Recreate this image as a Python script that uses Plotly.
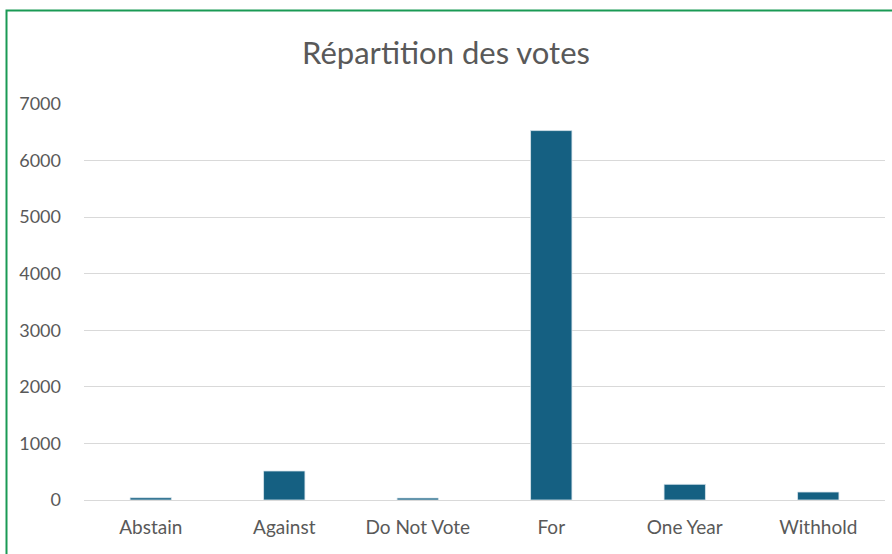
import plotly.graph_objects as go

categories = ["Abstain", "Against", "Do Not Vote", "For", "One Year", "Withhold"]
votes = [40, 513, 35, 6530, 277, 141]
y_ticks = [0, 1000, 2000, 3000, 4000, 5000, 6000, 7000]

W, H = 892, 554
L, R, T, B = 84, 7, 104, 54
pw, ph = W - L - R, H - T - B

def px_x(px):
    return (px - L) / pw

def px_y(py):
    return (H - B - py) / ph

FONT = "Lato"
GREY = "#595959"

fig = go.Figure(go.Bar(
    x=categories, y=votes,
    marker=dict(color="#156082", line=dict(color="#dbe6ee", width=0.8)),
))

fig.update_layout(
    width=W, height=H,
    margin=dict(l=L, r=R, t=T, b=B),
    paper_bgcolor="white", plot_bgcolor="white",
    bargap=0.69,
    showlegend=False,
    title=dict(text="Répartition des votes", x=0.5, xanchor="center",
               y=1 - 53 / H, yanchor="middle", yref="container",
               font=dict(family=FONT, size=31, color=GREY)),
    xaxis=dict(showgrid=False, showline=False, ticks="",
               ticklabelstandoff=14,
               tickfont=dict(family=FONT, size=19, color=GREY)),
    yaxis=dict(range=[0, 7000], tickvals=y_ticks, showgrid=True,
               gridcolor="#d9d9d9", gridwidth=1, zeroline=True,
               zerolinecolor="#d9d9d9", zerolinewidth=1, ticks="",
               showline=False, ticklabelstandoff=22,
               tickfont=dict(family=FONT, size=18, color=GREY)),
    shapes=[dict(type="rect", xref="paper", yref="paper",
                 x0=px_x(6.5), x1=px_x(900), y0=px_y(560), y1=px_y(10.5),
                 line=dict(color="#1a9a55", width=2), fillcolor="rgba(0,0,0,0)",
                 layer="above")],
)

fig.write_html("out.html", config={"displayModeBar": False},
               post_script="document.body.style.margin='0';")
